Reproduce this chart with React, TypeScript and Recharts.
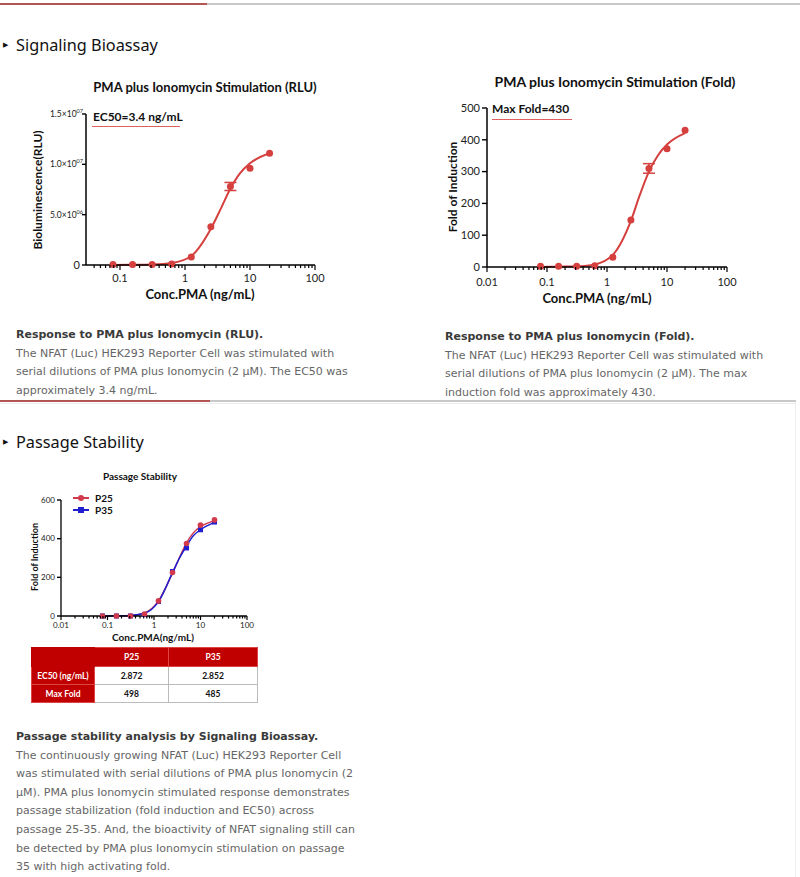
import React from "react";
import { ComposedChart, Line, Scatter, XAxis, YAxis, ErrorBar, Legend } from "recharts";

// concentrations (ng/mL), 2-fold serial dilution
const concentrations = [0.078, 0.156, 0.3125, 0.625, 1.25, 2.5, 5, 10, 20];

// RLU chart
const rluValues = [0.04e6, 0.05e6, 0.04e6, 0.1e6, 0.8e6, 3.8e6, 7.8e6, 9.6e6, 11.1e6];
const rluErrors = [0, 0, 0, 0, 0, 0, 0.4e6, 0, 0];
const fitConc = [0.078, 0.156, 0.3125, 0.625, 1.25, 2.5, 3.5, 5, 7, 10, 20];
const rluFit = [0.01e6, 0.02e6, 0.05e6, 0.2e6, 0.9e6, 3.6e6, 5.5e6, 7.6e6, 9.1e6, 10.1e6, 11.1e6];
const rluTicks = [0, 5e6, 10e6, 15e6];
const rluTickLabels = ["0", "5.0×10|06", "1.0×10|07", "1.5×10|07"];

// Fold chart
const foldValues = [2, 2, 2, 4, 31, 148, 310, 372, 430];
const foldErrors = [0, 0, 0, 0, 0, 0, 15, 0, 0];
const foldFit = [0, 1, 2, 8, 38, 145, 225, 300, 350, 385, 421];
const foldTicks = [0, 100, 200, 300, 400, 500];

// Passage stability
const p25Values = [0, 0, 0, 10, 78, 225, 375, 470, 497];
const p35Values = [0, 0, 0, 8, 75, 230, 352, 446, 486];
const p25Fit = [0, 1, 3, 16, 78, 222, 300, 378, 430, 462, 493];
const p35Fit = [0, 1, 3, 14, 74, 224, 298, 362, 415, 446, 484];
const passageTicks = [0, 200, 400, 600];

const logTicksA = [0.04, 0.05, 0.06, 0.07, 0.08, 0.09, 0.1, 0.2, 0.3, 0.4, 0.5, 0.6, 0.7, 0.8, 0.9, 1, 2, 3, 4, 5, 6, 7, 8, 9, 10, 20, 30, 40, 50, 60, 70, 80, 90, 100];
const logTicksB = [0.01, 0.02, 0.03, 0.04, 0.05, 0.06, 0.07, 0.08, 0.09, ...logTicksA.slice(6)];

// table
const tableCols = ["P25", "P35"];
const tableRows = ["EC50 (ng/mL)", "Max Fold"];
const tableValues = [["2.872", "2.852"], ["498", "485"]];

const RED = "#d5403f";
const P25_COLOR = "#d23a4c";
const P35_COLOR = "#1f1fd0";
const CHART_FONT = "Lato, 'Open Sans', sans-serif";
const BODY_FONT = "'DejaVu Sans', Verdana, sans-serif";

const rluPoints = concentrations.map((c, i) => ({ conc: c, v: rluValues[i], err: rluErrors[i] }));
const rluLine = fitConc.map((c, i) => ({ conc: c, v: rluFit[i] }));
const foldPoints = concentrations.map((c, i) => ({ conc: c, v: foldValues[i], err: foldErrors[i] }));
const foldLine = fitConc.map((c, i) => ({ conc: c, v: foldFit[i] }));
const p25Points = concentrations.map((c, i) => ({ conc: c, v: p25Values[i] }));
const p35Points = concentrations.map((c, i) => ({ conc: c, v: p35Values[i] }));
const p25Line = fitConc.map((c, i) => ({ conc: c, v: p25Fit[i] }));
const p35Line = fitConc.map((c, i) => ({ conc: c, v: p35Fit[i] }));

const isDecade = (v: number) => Math.abs(Math.log10(v) - Math.round(Math.log10(v))) < 1e-6;

const makeLogTick = (fontSize: number, majorLen: number, minorLen: number, gap: number) => (props: any) => {
  const { x, y, payload } = props;
  const major = isDecade(payload.value);
  return (
    <g>
      <line x1={x} x2={x} y1={y} y2={y + (major ? majorLen : minorLen)} stroke="#000" strokeWidth={1.2} />
      {major && (
        <text x={x} y={y + gap} textAnchor="middle" fontSize={fontSize} fill="#222" fontFamily={CHART_FONT}>
          {String(payload.value)}
        </text>
      )}
    </g>
  );
};

const makeYTick = (fontSize: number, len: number) => (props: any) => {
  const { x, y, payload } = props;
  return (
    <g>
      <line x1={x - len} x2={x} y1={y} y2={y} stroke="#000" strokeWidth={1.4} />
      <text x={x - len - 2} y={y + fontSize * 0.35} textAnchor="end" fontSize={fontSize} fill="#222" fontFamily={CHART_FONT}>
        {payload.value}
      </text>
    </g>
  );
};

const RluYTick = (props: any) => {
  const { x, y, payload } = props;
  const label = rluTickLabels[rluTicks.indexOf(payload.value)] || "";
  const [base, sup] = label.split("|");
  return (
    <g>
      <line x1={x - 4} x2={x} y1={y} y2={y} stroke="#000" strokeWidth={1.4} />
      {sup ? (
        <text x={x - 3} y={y + 3} textAnchor="end" fontSize={8.5} fill="#222" fontFamily={CHART_FONT}>
          <tspan>{base}</tspan>
          <tspan dy={-4} fontSize={5.5}>{sup}</tspan>
        </text>
      ) : (
        <text x={x - 6} y={y + 4} textAnchor="end" fontSize={11} fill="#222" fontFamily={CHART_FONT}>
          {base}
        </text>
      )}
    </g>
  );
};

const dot = (color: string, r: number) => (p: any) => <circle cx={p.cx} cy={p.cy} r={r} fill={color} />;
const square = (color: string, s: number) => (p: any) => (
  <rect x={p.cx - s / 2} y={p.cy - s / 2} width={s} height={s} fill={color} />
);

const axisTitle = (text: string, x: number, y: number, size: number, rotate = false) => () => (
  <text
    x={rotate ? 0 : x}
    y={rotate ? 0 : y}
    transform={rotate ? `translate(${x},${y}) rotate(-90)` : undefined}
    textAnchor="middle"
    dominantBaseline="central"
    fontSize={size}
    fontWeight={700}
    fill="#111"
    fontFamily={CHART_FONT}
  >
    {text}
  </text>
);

const abs = (left: number, top: number, extra: React.CSSProperties = {}): React.CSSProperties => ({
  position: "absolute",
  left,
  top,
  ...extra,
});

const PassageLegend = (props: any) => {
  const items = (props.payload || []).filter((p: any) => p.value === "P25" || p.value === "P35");
  items.sort((a: any, b: any) => (a.value < b.value ? -1 : 1));
  return (
    <div>
      {items.map((it: any) => (
        <div key={it.value} style={{ display: "flex", alignItems: "center", height: 12 }}>
          <svg width={18} height={10}>
            <line x1={1} x2={17} y1={5} y2={5} stroke={it.color} strokeWidth={2} />
            {it.value === "P25" ? <circle cx={9} cy={5} r={3} fill={it.color} /> : <rect x={6} y={2} width={6} height={6} fill={it.color} />}
          </svg>
          <span style={{ fontFamily: CHART_FONT, fontWeight: 700, fontSize: 10, color: "#111", marginLeft: 5 }}>{it.value}</span>
        </div>
      ))}
    </div>
  );
};

function SectionHeading({ top, text }: { top: number; text: string }) {
  return (
    <div style={abs(0, top, { display: "flex", alignItems: "center", height: 22 })}>
      <span style={{ fontSize: 7, marginLeft: 3, color: "#111", width: 13 }}>▶</span>
      <span style={{ fontFamily: "'Noto Sans', sans-serif", fontSize: 16.3, color: "#111", whiteSpace: "nowrap" }}>{text}</span>
    </div>
  );
}

function TextBlock({ left, top, title, lines }: { left: number; top: number; title: string; lines: string[] }) {
  return (
    <div style={abs(left, top, { fontFamily: BODY_FONT, fontSize: 11, lineHeight: "18.6px", whiteSpace: "nowrap" })}>
      <div style={{ fontWeight: 700, color: "#3a3a3a" }}>{title}</div>
      {lines.map((l) => (
        <div key={l} style={{ color: "#666" }}>{l}</div>
      ))}
    </div>
  );
}

function Divider({ top, redWidth, left = 0, width = 800 }: { top: number; redWidth: number; left?: number; width?: number }) {
  return (
    <>
      <div style={abs(left, top, { width, height: 2, background: "#c8c8c8" })} />
      <div style={abs(left, top, { width: redWidth, height: 2, background: "#b25555" })} />
    </>
  );
}

export default function App() {
  return (
    <div style={{ position: "absolute", left: 0, top: 0, width: 800, height: 877, background: "#fff", overflow: "hidden" }}>
      <Divider top={3} redWidth={207} />
      <SectionHeading top={34} text="Signaling Bioassay" />

      {/* RLU chart */}
      <div style={abs(0, 79, { width: 410, textAlign: "center", fontFamily: CHART_FONT, fontWeight: 700, fontSize: 13, color: "#111" })}>
        PMA plus Ionomycin Stimulation (RLU)
      </div>
      <div style={abs(93, 109, { fontFamily: CHART_FONT, fontWeight: 700, fontSize: 12, color: "#111" })}>EC50=3.4 ng/mL</div>
      <div style={abs(92, 126, { width: 88, height: 1, background: "#e06060" })} />
      <div style={abs(20, 100)}>
        <ComposedChart width={310} height={210} margin={{ top: 14, right: 15, bottom: 11, left: 0 }}>
          <XAxis
            dataKey="conc"
            type="number"
            scale="log"
            domain={[0.03, 100]}
            allowDataOverflow
            ticks={logTicksA}
            interval={0}
            tickSize={0}
            tickMargin={0}
            tickLine={false}
            tick={makeLogTick(11, 5, 3, 17)}
            axisLine={{ stroke: "#000", strokeWidth: 1.5 }}
            height={34}
            label={{ content: axisTitle("Conc.PMA (ng/mL)", 180, 194, 13) }}
          />
          <YAxis
            type="number"
            domain={[0, 15e6]}
            ticks={rluTicks}
            interval={0}
            tickSize={0}
            tickMargin={0}
            tickLine={false}
            tick={RluYTick}
            axisLine={{ stroke: "#000", strokeWidth: 1.5 }}
            width={66}
            label={{ content: axisTitle("Bioluminescence(RLU)", 17, 90, 12, true) }}
          />
          <Line data={rluLine} dataKey="v" type="monotone" stroke={RED} strokeWidth={2} dot={false} isAnimationActive={false} />
          <Scatter data={rluPoints} dataKey="v" fill={RED} shape={dot(RED, 3.5)} isAnimationActive={false}>
            <ErrorBar dataKey="err" direction="y" width={6} stroke={RED} strokeWidth={1.5} />
          </Scatter>
        </ComposedChart>
      </div>

      {/* Fold chart */}
      <div style={abs(410, 73, { width: 410, textAlign: "center", fontFamily: CHART_FONT, fontWeight: 700, fontSize: 14, color: "#111" })}>
        PMA plus Ionomycin Stimulation (Fold)
      </div>
      <div style={abs(492, 101, { fontFamily: CHART_FONT, fontWeight: 700, fontSize: 12, color: "#111" })}>Max Fold=430</div>
      <div style={abs(492, 119, { width: 80, height: 1, background: "#e06060" })} />
      <div style={abs(420, 95)}>
        <ComposedChart width={330} height={220} margin={{ top: 13, right: 23, bottom: 14, left: 0 }}>
          <XAxis
            dataKey="conc"
            type="number"
            scale="log"
            domain={[0.01, 100]}
            allowDataOverflow
            ticks={logTicksB}
            interval={0}
            tickSize={0}
            tickMargin={0}
            tickLine={false}
            tick={makeLogTick(11, 5, 3, 19)}
            axisLine={{ stroke: "#000", strokeWidth: 1.5 }}
            height={34}
            label={{ content: axisTitle("Conc.PMA (ng/mL)", 177, 203, 13) }}
          />
          <YAxis
            type="number"
            domain={[0, 500]}
            ticks={foldTicks}
            interval={0}
            tickSize={0}
            tickMargin={0}
            tickLine={false}
            tick={makeYTick(11, 5)}
            axisLine={{ stroke: "#000", strokeWidth: 1.5 }}
            width={67}
            label={{ content: axisTitle("Fold of Induction", 32, 92, 12, true) }}
          />
          <Line data={foldLine} dataKey="v" type="monotone" stroke={RED} strokeWidth={2} dot={false} isAnimationActive={false} />
          <Scatter data={foldPoints} dataKey="v" fill={RED} shape={dot(RED, 3.5)} isAnimationActive={false}>
            <ErrorBar dataKey="err" direction="y" width={6} stroke={RED} strokeWidth={1.5} />
          </Scatter>
        </ComposedChart>
      </div>

      <TextBlock
        left={16}
        top={326}
        title="Response to PMA plus Ionomycin (RLU)."
        lines={[
          "The NFAT (Luc) HEK293 Reporter Cell was stimulated with",
          "serial dilutions of PMA plus Ionomycin (2 μM). The EC50 was",
          "approximately 3.4 ng/mL.",
        ]}
      />
      <TextBlock
        left={445}
        top={328}
        title="Response to PMA plus Ionomycin (Fold)."
        lines={[
          "The NFAT (Luc) HEK293 Reporter Cell was stimulated with",
          "serial dilutions of PMA plus Ionomycin (2 μM). The max",
          "induction fold was approximately 430.",
        ]}
      />

      <Divider top={400} redWidth={210} width={796} />
      <div style={abs(0, 403, { width: 796, height: 1, background: "#ececec" })} />
      <div style={abs(795, 402, { width: 1, height: 475, background: "#eeeeee" })} />

      <SectionHeading top={431} text="Passage Stability" />

      {/* Passage stability chart */}
      <div style={abs(60, 470, { width: 160, textAlign: "center", fontFamily: CHART_FONT, fontWeight: 700, fontSize: 10, color: "#111" })}>
        Passage Stability
      </div>
      <div style={abs(0, 470)}>
        <ComposedChart width={260} height={174} margin={{ top: 30, right: 13, bottom: 0, left: 0 }}>
          <XAxis
            dataKey="conc"
            type="number"
            scale="log"
            domain={[0.01, 100]}
            allowDataOverflow
            ticks={logTicksB}
            interval={0}
            tickSize={0}
            tickMargin={0}
            tickLine={false}
            tick={makeLogTick(8, 4, 2.5, 12)}
            axisLine={{ stroke: "#000", strokeWidth: 1.3 }}
            height={28}
            label={{ content: axisTitle("Conc.PMA(ng/mL)", 153, 167, 10) }}
          />
          <YAxis
            type="number"
            domain={[0, 600]}
            ticks={passageTicks}
            interval={0}
            tickSize={0}
            tickMargin={0}
            tickLine={false}
            tick={makeYTick(8, 4)}
            axisLine={{ stroke: "#000", strokeWidth: 1.3 }}
            width={61}
            label={{ content: axisTitle("Fold of Induction", 34, 87, 9, true) }}
          />
          <Legend
            layout="vertical"
            align="center"
            verticalAlign="middle"
            wrapperStyle={{ left: 72, top: 22, width: 60 }}
            content={PassageLegend}
          />
          <Line data={p25Line} dataKey="v" name="P25 fit" legendType="none" type="monotone" stroke={P25_COLOR} strokeWidth={1.5} dot={false} isAnimationActive={false} />
          <Line data={p35Line} dataKey="v" name="P35 fit" legendType="none" type="monotone" stroke={P35_COLOR} strokeWidth={1.5} dot={false} isAnimationActive={false} />
          <Scatter data={p35Points} dataKey="v" name="P35" fill={P35_COLOR} shape={square(P35_COLOR, 5)} isAnimationActive={false} />
          <Scatter data={p25Points} dataKey="v" name="P25" fill={P25_COLOR} shape={dot(P25_COLOR, 2.8)} isAnimationActive={false} />
        </ComposedChart>
      </div>

      {/* summary table */}
      <table
        style={{
          ...abs(31, 647),
          width: 226,
          borderCollapse: "collapse",
          fontFamily: CHART_FONT,
          fontWeight: 700,
          fontSize: 8.5,
          tableLayout: "fixed",
        }}
      >
        <colgroup>
          <col style={{ width: 63 }} />
          <col style={{ width: 74 }} />
          <col style={{ width: 89 }} />
        </colgroup>
        <tbody>
          <tr style={{ height: 19 }}>
            <td style={{ background: "#c00000", border: "1px solid #c00000" }} />
            {tableCols.map((c) => (
              <td key={c} style={{ background: "#c00000", color: "#fff", textAlign: "center", border: "1px solid #d44", padding: 0 }}>
                {c}
              </td>
            ))}
          </tr>
          {tableRows.map((r, i) => (
            <tr key={r} style={{ height: 18 }}>
              <td style={{ background: "#c00000", color: "#fff", textAlign: "center", border: "1px solid #d44", padding: 0 }}>{r}</td>
              {tableValues[i].map((v, j) => (
                <td key={j} style={{ background: "#fff", color: "#111", textAlign: "center", border: "1px solid #bbb", padding: 0 }}>
                  {v}
                </td>
              ))}
            </tr>
          ))}
        </tbody>
      </table>

      <TextBlock
        left={16}
        top={728}
        title="Passage stability analysis by Signaling Bioassay."
        lines={[
          "The continuously growing NFAT (Luc) HEK293 Reporter Cell",
          "was stimulated with serial dilutions of PMA plus Ionomycin (2",
          "μM). PMA plus Ionomycin stimulated response demonstrates",
          "passage stabilization (fold induction and EC50) across",
          "passage 25-35. And, the bioactivity of NFAT signaling still can",
          "be detected by PMA plus Ionomycin stimulation on passage",
          "35 with high activating fold.",
        ]}
      />
    </div>
  );
}
